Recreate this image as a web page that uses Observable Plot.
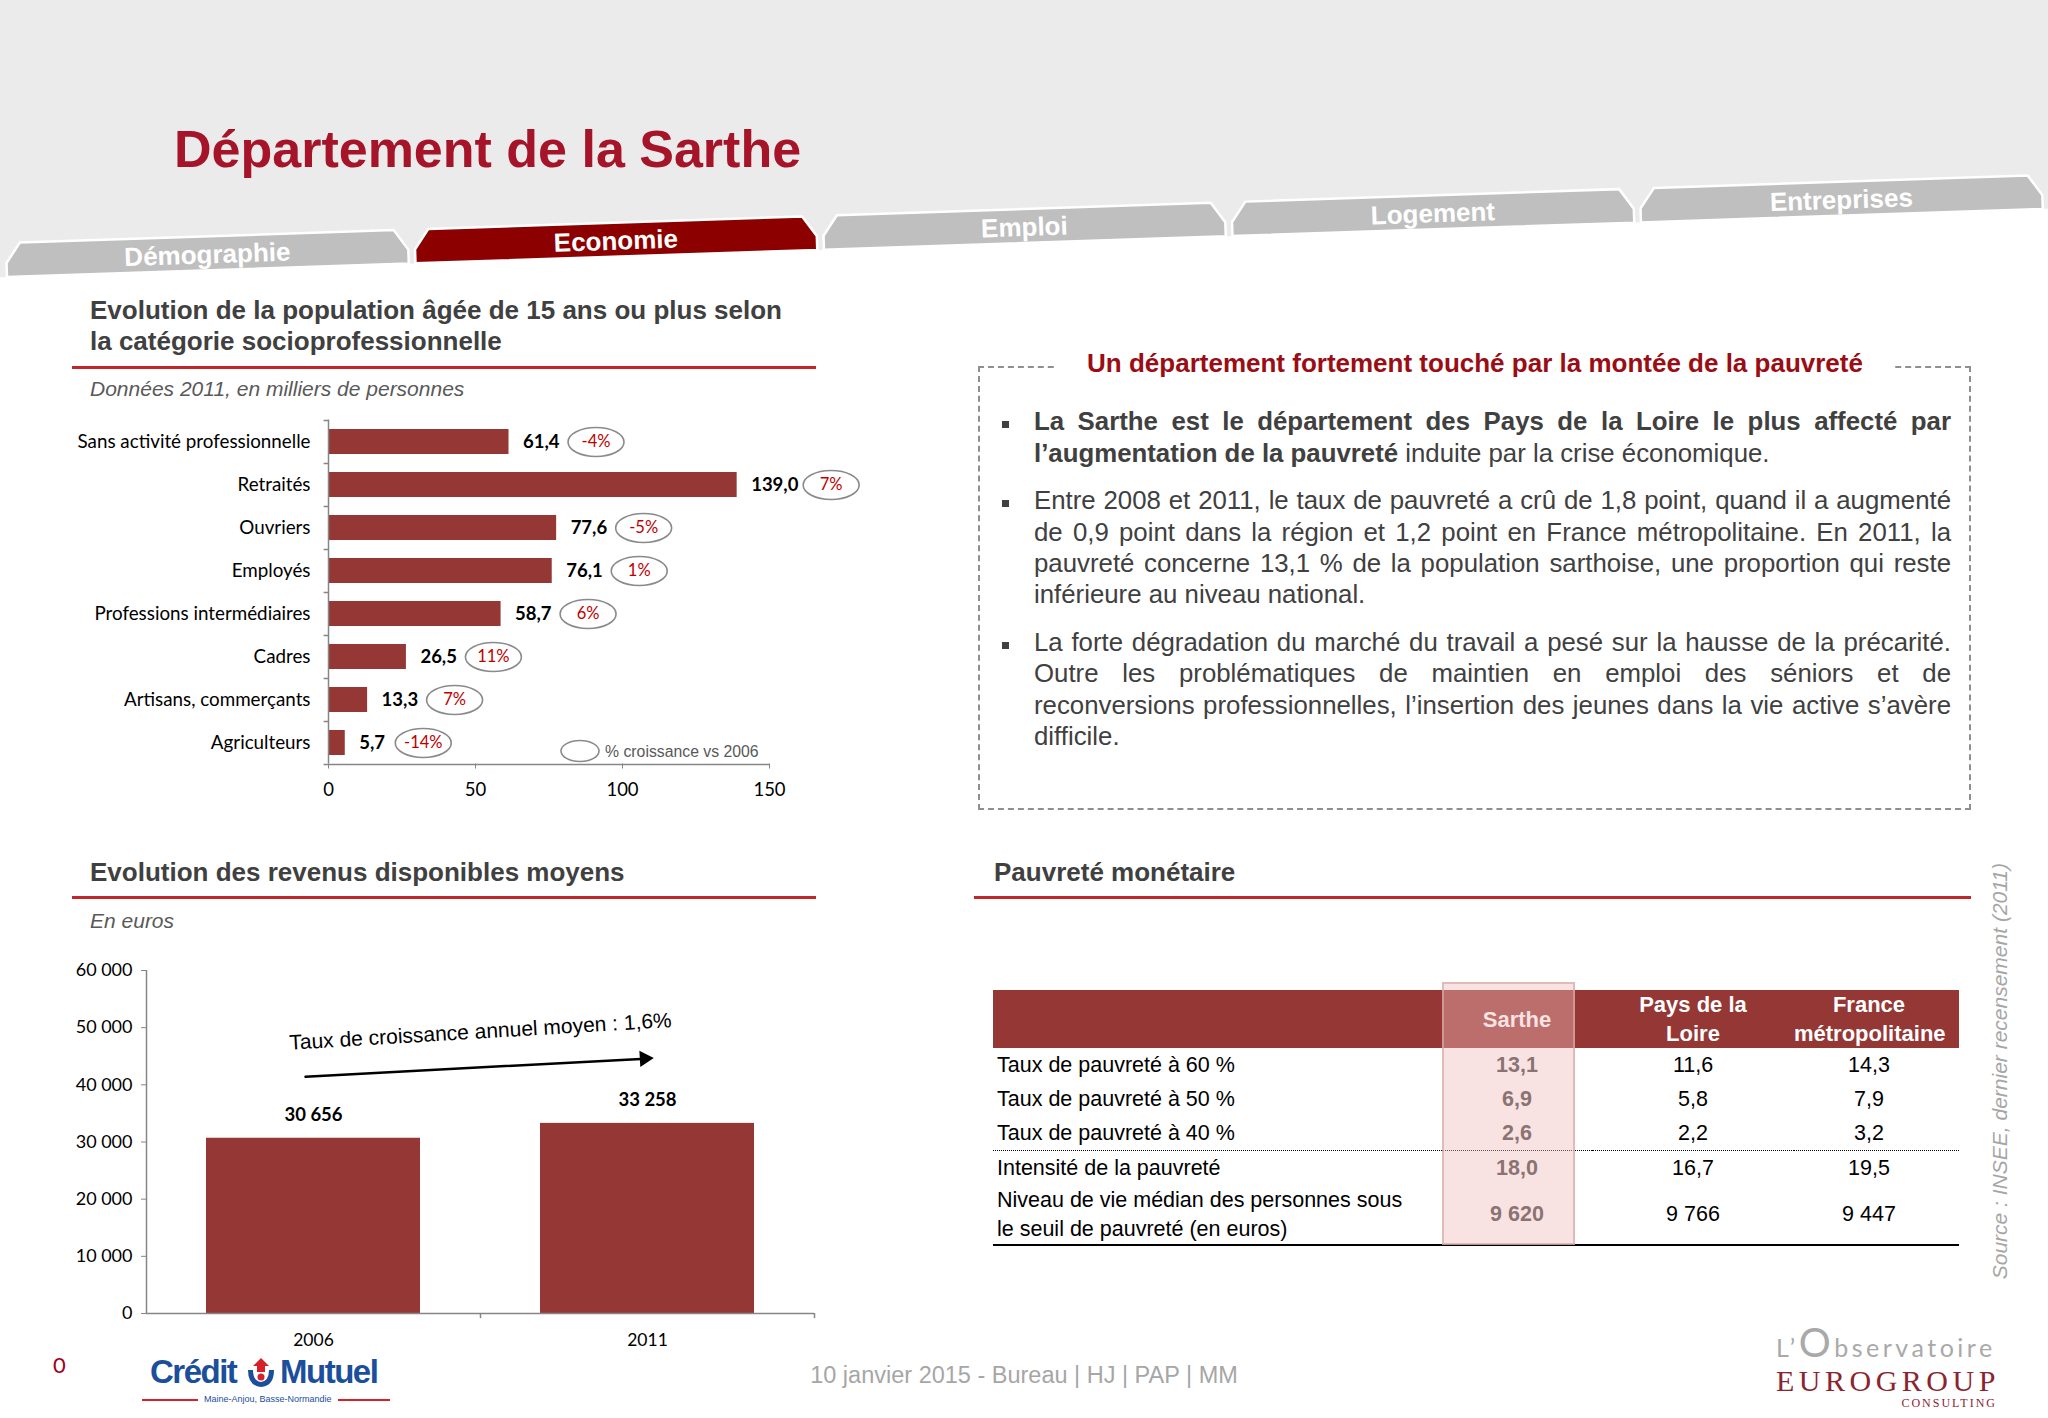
<!DOCTYPE html>
<html><head><meta charset="utf-8">
<script src="https://cdn.jsdelivr.net/npm/d3@7"></script>
<script src="https://cdn.jsdelivr.net/npm/@observablehq/plot@0.6"></script>
<style>
html,body{margin:0;padding:0;background:#fff;}
#slide{position:relative;width:2048px;height:1418px;overflow:hidden;background:#fff;font-family:"Liberation Sans",Arial,sans-serif;}
.abs{position:absolute;white-space:nowrap;}
.rule{position:absolute;height:3px;background:#c0272d;}
#bul{position:absolute;left:1034px;top:406.4px;width:917px;font:25.8px/31.3px "Liberation Sans",Arial,sans-serif;color:#404040;text-align:justify;}
#bul p{margin:0 0 16.5px 0;position:relative;}
#bul p::before{content:"";position:absolute;left:-32px;top:14.5px;width:7px;height:7px;background:#404040;}
#tbl{position:absolute;left:993px;top:990px;width:966px;border-collapse:collapse;table-layout:fixed;}
#tbl th{background:#953735;color:#fff;font:bold 22px/29px "Liberation Sans",Arial,sans-serif;height:56px;padding:0;text-align:center;vertical-align:middle;}
#tbl td{font:21.5px/29px "Liberation Sans",Arial,sans-serif;color:#000;height:34px;padding:0;text-align:center;vertical-align:middle;}
#tbl td.lab{text-align:left;padding-left:4px;}
#tbl td.s{font-weight:bold;color:#404040;}
#tbl .fr{padding-right:15px;}
#tbl tr.r2 td{border-bottom:1.5px dotted #000;}
#tbl tr.r4 td{height:59px;border-bottom:2px solid #000;}
</style></head>
<body><div id="slide"></div>
<script>
// ---------------- DATA ----------------
const tabs = ["Démographie", "Economie", "Emploi", "Logement", "Entreprises"];
const activeTab = 1;

const categories = ["Sans activité professionnelle", "Retraités", "Ouvriers", "Employés",
  "Professions intermédiaires", "Cadres", "Artisans, commerçants", "Agriculteurs"];
const population2011 = [61.4, 139.0, 77.6, 76.1, 58.7, 26.5, 13.3, 5.7];
const growthVs2006 = ["-4%", "7%", "-5%", "1%", "6%", "11%", "7%", "-14%"];
const popTicks = [0, 50, 100, 150];

const incomeYears = ["2006", "2011"];
const incomeValues = [30656, 33258];
const incomeTicks = [0, 10000, 20000, 30000, 40000, 50000, 60000];
const growthNote = "Taux de croissance annuel moyen : 1,6%";

const povertyHeaders = [["Sarthe"], ["Pays de la", "Loire"], ["France", "métropolitaine"]];
const povertyRows = ["Taux de pauvreté à 60 %", "Taux de pauvreté à 50 %", "Taux de pauvreté à 40 %",
  "Intensité de la pauvreté", "Niveau de vie médian des personnes sous\nle seuil de pauvreté (en euros)"];
const sartheValues = ["13,1", "6,9", "2,6", "18,0", "9 620"];
const paysLoireValues = ["11,6", "5,8", "2,2", "16,7", "9 766"];
const franceValues = ["14,3", "7,9", "3,2", "19,5", "9 447"];

// ---------------- HELPERS ----------------
const LIB = "'Liberation Sans', Arial, Helvetica, sans-serif";
const CAL = "Lato, 'Open Sans', sans-serif";
const SERIF = "'Liberation Serif', serif";
const RED = "#953735";
const slide = document.getElementById("slide");

function put(html, o) {
  const d = document.createElement("div");
  d.className = "abs";
  const size = o.size, lh = size * 1.2;
  const fam = o.family || LIB;
  const asc = o.asc ?? 0.3465;
  d.style.left = o.x + "px";
  d.style.top = (o.base - lh / 2 - asc * size) + "px";
  d.style.font = `${o.style || "normal"} ${o.weight || "normal"} ${size}px/${lh}px ${fam}`;
  d.style.color = o.color || "#404040";
  if (o.anchor === "middle") d.style.transform = "translateX(-50%)";
  if (o.css) d.style.cssText += o.css;
  d.innerHTML = html;
  slide.appendChild(d);
  return d;
}
function rule(x, y, w) {
  const d = document.createElement("div");
  d.className = "rule";
  d.style.left = x + "px"; d.style.top = y + "px"; d.style.width = w + "px";
  slide.appendChild(d);
}

// ---------------- HEADER / TABS ----------------
{
  const ang = -1.913, slope = Math.tan(ang * Math.PI / 180);
  let s = `<svg width="2048" height="300" style="position:absolute;left:0;top:0">`;
  s += `<polygon points="0,0 2048,0 2048,${277 + (2048 - 7) * slope} 0,${277 - 7 * slope}" fill="#ebebeb"/>`;
  const W = 402;
  tabs.forEach((t, i) => {
    const x0 = 7 + i * 408.5, y0 = 277 + (x0 - 7) * slope;
    s += `<g transform="translate(${x0},${y0}) rotate(${ang})">
      <polygon points="0,0 0,-14 14,-34 ${W - 14},-34 ${W},-14 ${W},0" fill="${i === activeTab ? '#8c0000' : '#bfbfbf'}" stroke="#fff" stroke-width="2.5"/>
      <text x="${W / 2}" y="-7" text-anchor="middle" font-family="${LIB}" font-weight="bold" font-size="26" fill="#fff">${t}</text></g>`;
  });
  s += `</svg>`;
  slide.insertAdjacentHTML("beforeend", s);
}
put("Département de la Sarthe", {x: 174, base: 167, size: 52, weight: "bold", color: "#a6142a"});

// ---------------- PANEL 1 ----------------
put("Evolution de la population âgée de 15 ans ou plus selon<br>la catégorie socioprofessionnelle",
  {x: 90, base: 320, size: 26, weight: "bold", color: "#404040", css: "line-height:31px;top:" + (320 - 15.5 - 0.3465 * 26) + "px;"});
rule(72, 366, 744);
put("Données 2011, en milliers de personnes", {x: 90, base: 396, size: 21, style: "italic", color: "#595959"});

const ellipseSym = (rx, ry) => ({
  draw(ctx) {
    const k = 0.5523;
    ctx.moveTo(rx, 0);
    ctx.bezierCurveTo(rx, k * ry, k * rx, ry, 0, ry);
    ctx.bezierCurveTo(-k * rx, ry, -rx, k * ry, -rx, 0);
    ctx.bezierCurveTo(-rx, -k * ry, -k * rx, -ry, 0, -ry);
    ctx.bezierCurveTo(k * rx, -ry, rx, -k * ry, rx, 0);
    ctx.closePath();
  }
});

{
  const popData = categories.map((c, i) => ({
    category: c, value: population2011[i], growth: growthVs2006[i],
    label: population2011[i].toFixed(1).replace(".", ",")
  }));
  const badgeDx = {3: 78, 4: 87, 5: 94};
  const badges = Object.entries(badgeDx).flatMap(([n, dx]) => {
    const sub = popData.filter(d => d.label.length === +n);
    return [
      Plot.dot(sub, {x: "value", y: "category", dx, r: 10, symbol: ellipseSym(28, 14.5), stroke: "#8a8a8a", strokeWidth: 1.6, fill: "none"}),
      Plot.text(sub, {x: "value", y: "category", dx, text: "growth", fill: "#c00000", fontSize: 16.5, fontFamily: CAL})
    ];
  });
  const W = 830, H = 395, top = 410;
  const chart = Plot.plot({
    width: W, height: H,
    marginLeft: 268, marginRight: W - 709, marginTop: 9.5, marginBottom: top + H - 763.5,
    style: {background: "transparent", fontFamily: CAL, fontSize: "18px", color: "#000", overflow: "visible"},
    x: {domain: [0, 150], label: null},
    y: {domain: categories, paddingInner: 0.42, paddingOuter: 0.21, label: null},
    marks: [
      Plot.barX(popData, {x: "value", y: "category", fill: RED}),
      Plot.ruleX([0], {stroke: "#868686", strokeWidth: 1.5}),
      Plot.ruleY(categories, {y: d => d, x1: -1.5, x2: 0, dy: -21.5, stroke: "#868686", strokeWidth: 1.5}),
      Plot.ruleY([categories[categories.length - 1]], {y: d => d, x1: -1.5, x2: 150, dy: 21.5, stroke: "#868686", strokeWidth: 1.5}),
      Plot.axisY({tickSize: 0, tickPadding: 18, fontSize: 18.8, fill: "#000"}),
      Plot.axisX({ticks: popTicks, tickSize: 5, tickPadding: 14, fontSize: 18.5, fill: "#000", stroke: "#868686"}),
      Plot.text(popData, {x: "value", y: "category", text: "label", dx: 14, textAnchor: "start", fontWeight: "bold", fontSize: 18.5, fill: "#000"}),
      ...badges
    ]
  });
  const holder = document.createElement("div");
  holder.style.cssText = `position:absolute;left:60px;top:${top}px;width:${W}px;height:${H}px;`;
  holder.appendChild(chart);
  slide.appendChild(holder);
  // legend
  slide.insertAdjacentHTML("beforeend",
    `<svg width="60" height="30" style="position:absolute;left:550px;top:736px"><ellipse cx="30" cy="15" rx="19" ry="10.5" fill="none" stroke="#8a8a8a" stroke-width="1.6"/></svg>`);
  put("% croissance vs 2006", {x: 605, base: 757.5, size: 15.8, color: "#595959"});
}

// ---------------- PANEL 2 ----------------
put("Evolution des revenus disponibles moyens", {x: 90, base: 882, size: 26, weight: "bold", color: "#404040"});
rule(72, 896, 744);
put("En euros", {x: 90, base: 928, size: 21, style: "italic", color: "#595959"});

{
  const incomeData = incomeYears.map((y, i) => ({year: y, value: incomeValues[i]}));
  const fmt = v => d3.format(",")(v).replace(/,/g, " ");
  const W = 800, H = 410, top = 950;
  const step = (W - 106 - 26) / 2;
  const arrowData = [{x1: incomeYears[0], y1: 41500, x2: incomeYears[1], y2: 44600}];
  const chart = Plot.plot({
    width: W, height: H, marginLeft: 106, marginRight: 26, marginTop: 20, marginBottom: 47,
    style: {background: "transparent", fontFamily: CAL, fontSize: "18px", color: "#000", overflow: "visible"},
    x: {domain: incomeYears, paddingInner: 0.36, paddingOuter: 0.18, label: null},
    y: {domain: [0, 60000], label: null},
    marks: [
      Plot.barY(incomeData, {x: "year", y: "value", fill: RED}),
      Plot.ruleY([0], {stroke: "#868686", strokeWidth: 1.5}),
      Plot.ruleX([incomeYears[0]], {x: d => d, dx: -step / 2, y1: 0, y2: 60000, stroke: "#868686", strokeWidth: 1.5}),
      Plot.ruleX(incomeYears, {x: d => d, dx: step / 2, y1: 0, y2: -900, stroke: "#868686", strokeWidth: 1.5}),
      Plot.axisY({ticks: incomeTicks, tickFormat: fmt, tickSize: 5, tickPadding: 9, fontSize: 18, fill: "#000", stroke: "#868686"}),
      Plot.axisX({tickSize: 0, tickPadding: 20, fontSize: 17.5, fill: "#000"}),
      Plot.text(incomeData, {x: "year", y: "value", text: d => fmt(d.value), dy: -23, fontWeight: "bold", fontSize: 18.5, fill: "#000"}),
      Plot.arrow(arrowData, {x1: "x1", y1: "y1", x2: "x2", y2: "y2", stroke: "#000", strokeWidth: 2.5, headLength: 0, insetStart: -8, insetEnd: 2}),
      Plot.dot(arrowData, {x: "x2", y: "y2", symbol: "triangle", r: 6, rotate: 86.6, fill: "#000", stroke: "none", dx: -3}),
      Plot.text([growthNote], {x: () => incomeYears[0], y: () => 49300, dx: step / 2, text: d => d, rotate: -3.4,
        fontFamily: LIB, fontSize: 21, fill: "#000"})
    ]
  });
  const holder = document.createElement("div");
  holder.style.cssText = `position:absolute;left:40px;top:${top}px;width:${W}px;height:${H}px;`;
  holder.appendChild(chart);
  slide.appendChild(holder);
}

// ---------------- PANEL 3 (text box) ----------------
{
  const b = document.createElement("div");
  b.style.cssText = "position:absolute;left:978px;top:366px;width:993px;height:444px;box-sizing:border-box;border:2px dashed #8f8f8f;";
  slide.appendChild(b);
  put("Un département fortement touché par la montée de la pauvreté",
    {x: 1475, base: 373, size: 26, weight: "bold", color: "#9b0d14", anchor: "middle", css: "background:#fff;padding:0 30px;"});
  const bul = document.createElement("div");
  bul.id = "bul";
  bul.innerHTML =
    `<p><b>La Sarthe est le département des Pays de la Loire le plus affecté par l’augmentation de la pauvreté</b> induite par la crise économique.</p>` +
    `<p>Entre 2008 et 2011, le taux de pauvreté a crû de 1,8 point, quand il a augmenté de 0,9 point dans la région et 1,2 point en France métropolitaine. En 2011, la pauvreté concerne 13,1 % de la population sarthoise, une proportion qui reste inférieure au niveau national.</p>` +
    `<p>La forte dégradation du marché du travail a pesé sur la hausse de la précarité. Outre les problématiques de maintien en emploi des séniors et de reconversions professionnelles, l’insertion des jeunes dans la vie active s’avère difficile.</p>`;
  slide.appendChild(bul);
}

// ---------------- PANEL 4 (table) ----------------
put("Pauvreté monétaire", {x: 994, base: 882, size: 26, weight: "bold", color: "#404040"});
rule(974, 896, 997);
{
  const t = document.createElement("table");
  t.id = "tbl";
  let h = `<colgroup><col style="width:449px"><col style="width:150px"><col style="width:202px"><col style="width:165px"></colgroup>`;
  h += `<tr><th></th>` + povertyHeaders.map((l, i) => `<th class="${i === 2 ? 'fr' : ''}">${l.join("<br>")}</th>`).join("") + `</tr>`;
  h += povertyRows.map((r, i) =>
    `<tr class="r${i}"><td class="lab">${r.replace("\n", "<br>")}</td><td class="s">${sartheValues[i]}</td><td>${paysLoireValues[i]}</td><td class="fr">${franceValues[i]}</td></tr>`).join("");
  t.innerHTML = h;
  slide.appendChild(t);
  const hl = document.createElement("div");
  hl.style.cssText = "position:absolute;left:1442px;top:982px;width:133px;height:263px;box-sizing:border-box;background:rgba(240,185,185,0.42);border:2px solid rgba(215,170,170,0.7);";
  slide.appendChild(hl);
}

// ---------------- SOURCE / FOOTER ----------------
put("Source : INSEE, dernier recensement (2011)", {x: 2002, base: 1076, size: 21, style: "italic", color: "#a6a6a6",
  css: "transform:translateX(-50%) rotate(-90deg);transform-origin:50% 60%;"});
put("0", {x: 53, base: 1374, size: 22, color: "#a0001e", family: CAL, asc: 0.387});
put("10 janvier 2015 - Bureau | HJ | PAP | MM", {x: 1024, base: 1383, size: 23.5, color: "#a6a6a6", anchor: "middle"});

// Crédit Mutuel logo
slide.insertAdjacentHTML("beforeend", `
<div style="position:absolute;left:150px;top:1352px;width:250px;height:60px;">
  <div style="position:absolute;left:0;top:0;font:bold 33px/40px ${LIB};color:#1b4f9c;letter-spacing:-1.5px;white-space:nowrap;">Crédit</div>
  <svg width="34" height="34" style="position:absolute;left:94px;top:4px">
    <path d="M17 2 L25 10 L21 10 L21 16 L13 16 L13 10 L9 10 Z" fill="#d6202a"/>
    <path d="M4 14 Q4 30 17 31 Q30 30 30 14 L25 14 Q25 25 17 26 Q9 25 9 14 Z" fill="#1b4f9c"/>
    <circle cx="17" cy="21" r="3.5" fill="#d6202a"/>
  </svg>
  <div style="position:absolute;left:130px;top:0;font:bold 33px/40px ${LIB};color:#1b4f9c;letter-spacing:-1.5px;white-space:nowrap;">Mutuel</div>
  <div style="position:absolute;left:-8px;top:47px;width:248px;height:2px;background:#d6202a;"></div>
  <div style="position:absolute;left:48px;top:41px;padding:0 6px;background:#fff;font:9px/12px ${LIB};color:#1b4f9c;white-space:nowrap;">Maine-Anjou, Basse-Normandie</div>
</div>`);

// Eurogroup logo
slide.insertAdjacentHTML("beforeend", `
<div style="position:absolute;left:1776px;top:1322px;width:225px;height:94px;">
  <div style="position:absolute;left:0;top:0;font:25px/40px ${CAL};color:#a9a9a9;letter-spacing:3.5px;white-space:nowrap;">L’<span style="font-size:40px">O</span>bservatoire</div>
  <div style="position:absolute;left:0;top:42px;font:30px/34px ${SERIF};color:#8c2331;letter-spacing:4.5px;white-space:nowrap;">EUROGROUP</div>
  <div style="position:absolute;right:4px;top:73px;font:12px/16px ${SERIF};color:#8c2331;letter-spacing:2px;white-space:nowrap;">CONSULTING</div>
</div>`);
</script>
</body></html>
